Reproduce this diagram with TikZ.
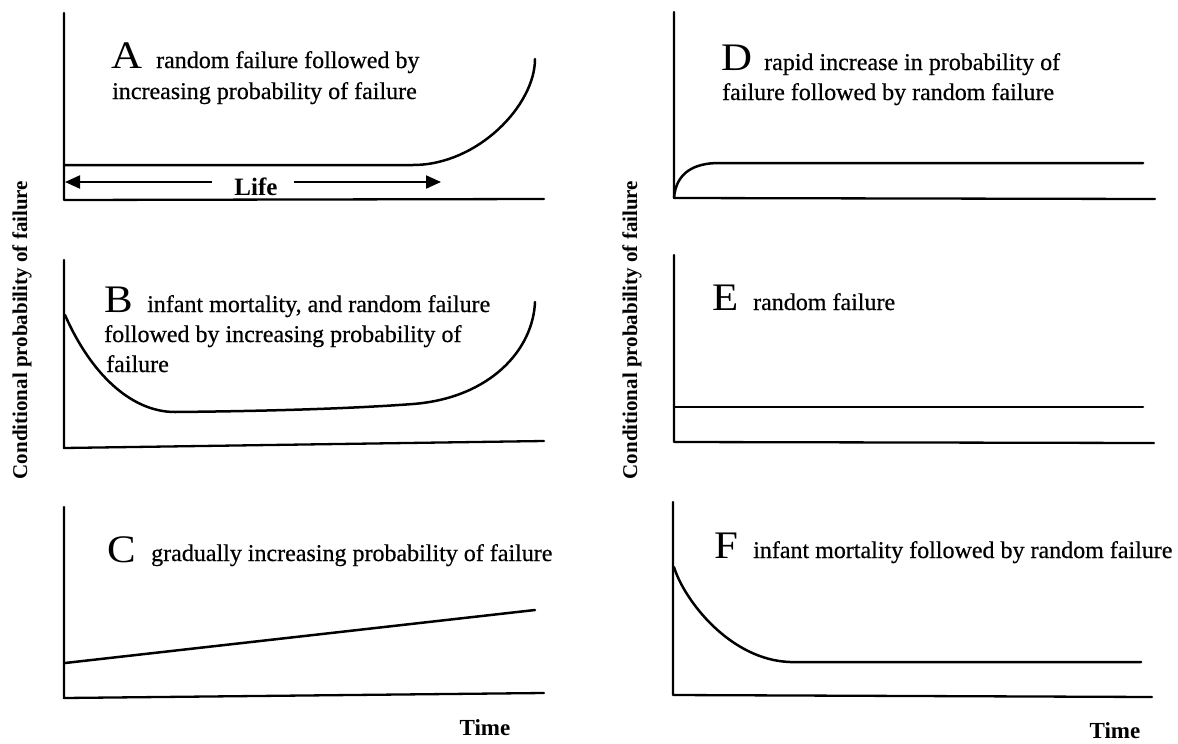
\documentclass[tikz,border=0pt]{standalone}
\usepackage{fontspec}
\setmainfont{Liberation Serif}
\newfontfamily\inkfont[FakeBold=0.6]{Liberation Serif}
\usetikzlibrary{arrows.meta}
\begin{document}
\begin{tikzpicture}[x=1pt,y=-1pt,
  axis/.style={line width=2.3pt, line cap=round, line join=round},
  curve/.style={line width=2.5pt, line cap=round, line join=round},
  lbl/.style={anchor=base west, inner sep=0pt, font=\inkfont\fontsize{24}{24}\selectfont},
  bigletter/.style={anchor=base west, inner sep=0pt, xscale=1.1, font=\fontsize{39}{39}\selectfont},
  ylab/.style={rotate=90, inner sep=0pt, font=\fontsize{21}{21}\selectfont\bfseries},
  timelab/.style={anchor=base, inner sep=0pt, font=\fontsize{23}{23}\selectfont\bfseries},
  lifearrow/.style={line width=2pt, -{Triangle[length=15pt,width=13pt]}},
]
\useasboundingbox (0,0) rectangle (1178,744);

% ---------- vertical axis titles ----------
\node[ylab] (ylabL) at (22,330) {Conditional probability of failure};
\node[ylab] (ylabR) at (632,330) {Conditional probability of failure};

% ---------- A ----------
\coordinate (Atop) at (64,13);
\coordinate (Ao) at (64,200);
\coordinate (Aend) at (544,199);
\draw[axis] (Atop) -- (Ao) -- (Aend);
\coordinate (Astart) at (64,165);
\coordinate (Aknee) at (413,165);
\coordinate (Apeak) at (535,59);
\draw[curve] (Astart) -- (Aknee) .. controls (478,165) and (535,105) .. (Apeak);
\node[bigletter] (Aletter) at (111,68) {A};
\node[lbl] (Atext1) at (156,68) {random failure followed by};
\node[lbl] (Atext2) at (112,99) {increasing probability of failure};
% life span arrow
\node[anchor=base, inner sep=0pt, font=\fontsize{25}{25}\selectfont\bfseries] (life) at (256,195) {Life};
\coordinate (lifeL) at (65,182);
\coordinate (lifeR) at (441,182);
\coordinate (lifeLs) at (212,182);
\coordinate (lifeRs) at (294,182);
\draw[lifearrow] (lifeLs) -- (lifeL);
\draw[lifearrow] (lifeRs) -- (lifeR);

% ---------- B ----------
\coordinate (Btop) at (64,260);
\coordinate (Bo) at (64,448);
\coordinate (Bend) at (544,441);
\draw[axis] (Btop) -- (Bo) -- (Bend);
\coordinate (Bstart) at (65,315);
\coordinate (Bmin) at (175,412);
\coordinate (Bknee) at (413,404);
\coordinate (Bpeak) at (535,302);
\draw[curve] (Bstart) .. controls (90,372) and (130,412) .. (Bmin)
  .. controls (280,411) and (360,408) .. (Bknee)
  .. controls (490,398) and (533,350) .. (Bpeak);
\node[bigletter] (Bletter) at (104,312) {B};
\node[lbl] (Btext1) at (147,312) {infant mortality, and random failure};
\node[lbl] (Btext2) at (104,342) {followed by increasing probability of};
\node[lbl] (Btext3) at (106,372) {failure};

% ---------- C ----------
\coordinate (Ctop) at (64,507);
\coordinate (Co) at (64,698);
\coordinate (Cend) at (544,693);
\draw[axis] (Ctop) -- (Co) -- (Cend);
\coordinate (Cstart) at (65,663);
\coordinate (Cfinish) at (535,610);
\draw[curve] (Cstart) -- (Cfinish);
\node[bigletter] (Cletter) at (107,562) {C};
\node[lbl] (Ctext) at (151,561) {gradually increasing probability of failure};
\node[timelab] (timeL) at (485,735) {Time};

% ---------- D ----------
\coordinate (Dtop) at (674,12);
\coordinate (Do) at (674,198);
\coordinate (Dend) at (1155,199);
\draw[axis] (Dtop) -- (Do) -- (Dend);
\coordinate (Dflat) at (719,163);
\coordinate (Dfinish) at (1143,163);
\draw[curve] (Do) .. controls (676,172) and (695,163) .. (Dflat) -- (Dfinish);
\node[bigletter] (Dletter) at (721,70) {D};
\node[lbl] (Dtext1) at (764,70) {rapid increase in probability of};
\node[lbl] (Dtext2) at (722,100) {failure followed by random failure};

% ---------- E ----------
\coordinate (Etop) at (674,255);
\coordinate (Eo) at (674,442);
\coordinate (Eend) at (1154,443);
\draw[axis] (Etop) -- (Eo) -- (Eend);
\coordinate (Estart) at (674,407);
\coordinate (Efinish) at (1143,407);
\draw[curve] (Estart) -- (Efinish);
\node[bigletter] (Eletter) at (712,310) {E};
\node[lbl] (Etext) at (753,310) {random failure};

% ---------- F ----------
\coordinate (Ftop) at (673,502);
\coordinate (Fo) at (673,695);
\coordinate (Fend) at (1152,697);
\draw[axis] (Ftop) -- (Fo) -- (Fend);
\coordinate (Fstart) at (674,567);
\coordinate (Fflat) at (790,662);
\coordinate (Ffinish) at (1141,662);
\draw[curve] (Fstart) .. controls (684,600) and (730,660) .. (Fflat) -- (Ffinish);
\node[bigletter] (Fletter) at (714,558) {F};
\node[lbl] (Ftext) at (753,558) {infant mortality followed by random failure};
\node[timelab] (timeR) at (1115,738) {Time};
\end{tikzpicture}
\end{document}
